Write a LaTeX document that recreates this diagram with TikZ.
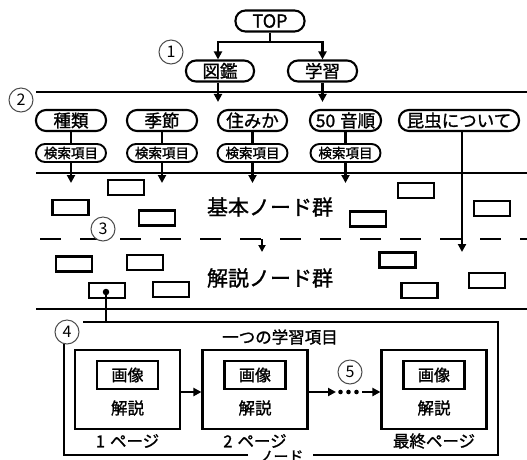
\documentclass[tikz,border=0pt]{standalone}
\usepackage{fontspec}
\newfontfamily\jp[FakeBold=1.2]{Noto Sans CJK JP}
\newfontfamily\jpn{Noto Sans CJK JP}
\usetikzlibrary{arrows.meta}
\begin{document}
\begin{tikzpicture}[x=1pt,y=-1pt,
  every node/.style={font=\jp, inner sep=0pt},
  pill/.style={draw, line width=2.1pt, rounded corners=10pt, minimum height=21pt, font=\jp\fontsize{17.5}{17.5}\selectfont},
  spill/.style={draw, line width=1.9pt, rounded corners=9pt, minimum height=18pt, minimum width=70pt, font=\jp\fontsize{13.5}{13.5}\selectfont},
  box/.style={draw, line width=2.2pt, minimum width=36pt, minimum height=15pt},
  ln/.style={line width=2.1pt},
  arr/.style={line width=2.1pt, -{Triangle[length=8pt,width=8pt]}},
  num/.style={circle, draw=black!70, line width=1pt, fill=white, minimum size=24pt, font=\jpn\fontsize{16}{16}\selectfont},
  page/.style={draw, line width=2.1pt, minimum width=105pt, minimum height=79pt},
  img/.style={draw, line width=2.1pt, minimum width=61pt, minimum height=28pt, font=\jp\fontsize{16}{16}\selectfont},
  txt/.style={font=\jp\fontsize{16.5}{16.5}\selectfont},
  grp/.style={font=\jp\fontsize{21}{21}\selectfont}
]
\useasboundingbox (0,0) rectangle (527,459);
\clip (0,0) rectangle (527,459);
\fill[white] (0,0) rectangle (527,459);

% top level
\node[pill, minimum width=69pt, font=\jp\fontsize{18}{18}\selectfont] (top) at (270,21) {TOP};
\node[pill, minimum width=68pt] (zukan) at (220,71) {図鑑};
\node[pill, minimum width=69pt] (gaku) at (322.5,71) {学習};
\coordinate (br) at (270,42);
\draw[ln] (top.south) -- (br);
\draw[arr] (br) -| ([xshift=-2pt]zukan.north);
\draw[arr] (br) -| (gaku.north);
\node[num] (n1) at (171,52) {1};

% line 2
\coordinate (l2a) at (36,92); \coordinate (l2b) at (527,92);
\draw[ln] (l2a) -- (l2b);
\node[num] (n2) at (21,100) {2};

\node[pill, minimum width=70pt] (shurui) at (71,120.5) {種類};
\node[pill, minimum width=70pt] (kisetsu) at (162,120.5) {季節};
\node[pill, minimum width=69pt] (sumika) at (252.5,120.5) {住みか};
\node[pill, minimum width=71pt] (gojuon) at (345.5,120.5) {50\hspace{5pt}音順};
\node[pill, minimum width=120pt] (konchu) at (459,120.5) {昆虫について};

\draw[arr, shorten >=7pt] ([xshift=-2pt]zukan.south) -- ([xshift=-2pt]zukan.south |- sumika.north);
\draw[arr, shorten >=7pt] (gaku.south) -- (gaku.south |- gojuon.north);

\foreach \n/\x in {s1/71,s2/162,s3/252.5,s4/345.5}{
  \node[spill] (\n) at (\x,153) {検索項目};
  \coordinate (\n e) at (\x,183);
  \draw[arr] (\n.south) -- (\n e);
}
\draw[ln] (shurui) -- (s1);
\draw[ln] (kisetsu) -- (s2);
\draw[ln] (sumika) -- (s3);
\draw[ln] (gojuon) -- (s4);

% line 3
\draw[ln] (36,173) -- (527,173);
\coordinate (ke) at (462,252);
\draw[arr] (konchu.south -| ke) -- (ke);

% basic node group
\node[box] (b1) at (126,187.5) {};
\node[box] (b2) at (70.5,207.5) {};
\node[box] (b3) at (157,218) {};
\node[box] (b4) at (416,190.5) {};
\node[box] (b5) at (368,219) {};
\node[box] (b6) at (492,208.5) {};
\node[grp] (kihon) at (270,207) {基本ノード群};

% dashed line
\draw[ln, dash pattern=on 21pt off 19pt, dash phase=-4pt] (36,239) -- (527,239);
\coordinate (da) at (262,239); \coordinate (db) at (262,252);
\draw[line width=2.1pt, -{Triangle[length=7pt,width=7pt]}] (da) -- (db);
\node[num] (n3) at (103,229) {3};

% explanation node group
\node[box] (e1) at (74,264) {};
\node[box] (e2) at (145,262.5) {};
\node[box] (e3) at (397.5,260) {};
\node[box] (e4) at (487,280.5) {};
\node[box] (e5) at (107,290.5) {};
\node[box] (e6) at (171,289.5) {};
\node[box] (e7) at (419.5,290.5) {};
\node[grp] (kaisetsu) at (270,278) {解説ノード群};

\draw[ln] (36,309) -- (527,309);

% node detail box
\coordinate (o1) at (83,322); \coordinate (o2) at (498,322);
\coordinate (o3) at (498,455); \coordinate (o4) at (64,455);
\coordinate (o5) at (64,343);
\coordinate (g1) at (248,455); \coordinate (g2) at (313,455);
\draw[ln] (o1) -- (o2) -- (o3) -- (g2);
\draw[ln] (g1) -- (o4) -- (o5);
\node[circle, fill, minimum size=6.5pt] (dot) at (106,292) {};
\draw[ln] (dot) -- (dot |- o1);
\node[num] (n4) at (67,332) {4};
\node[font=\jp\fontsize{15}{15}\selectfont] (nodelbl) at (281,456.5) {ノード};

\node[txt] (title) at (280,337) {一つの学習項目};

\foreach \n/\x/\lab in {p1/127.5/1\hspace{5pt}ページ, p2/255/2\hspace{5pt}ページ, p3/434/最終ページ}{
  \node[page] (\n) at (\x,389.5) {};
  \node[img] (\n i) at (\x,375) {画像};
  \node[txt] (\n t) at (\x,408) {解説};
  \node[txt] (\n l) at (\x,441) {\lab};
}
\draw[arr] ([yshift=-2.5pt]p1.east) -- ([yshift=-2.5pt]p2.west);
\coordinate (m1) at (336,392); \coordinate (m2) at (362,392);
\draw[arr] ([yshift=-2.5pt]p2.east) -- (m1);
\foreach \x in {340.5,348.5,356.5}{\fill (\x,392) circle (2.3pt);}
\draw[arr] (m2) -- ([yshift=-2.5pt]p3.west);
\node[num] (n5) at (350,372) {5};
\end{tikzpicture}
\end{document}
